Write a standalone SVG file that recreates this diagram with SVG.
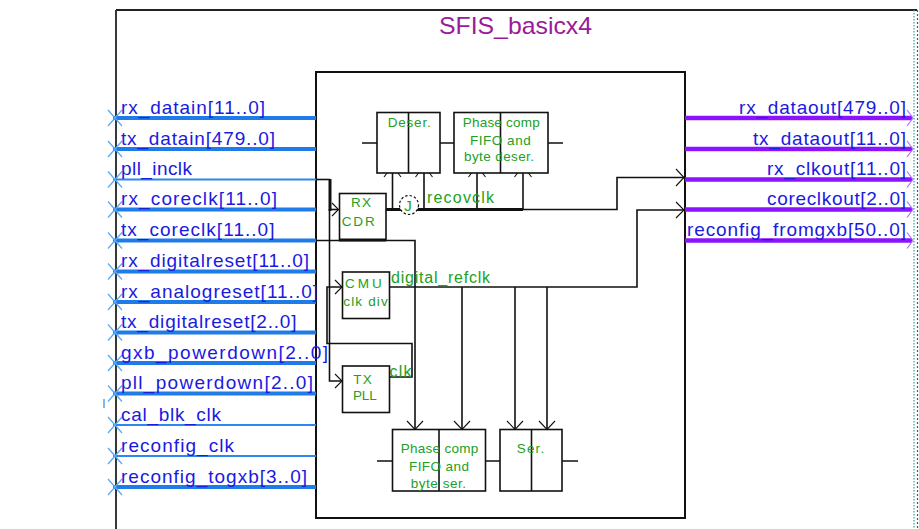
<svg xmlns="http://www.w3.org/2000/svg" width="919" height="529" viewBox="0 0 919 529">
<style>
.pl{font-family:"Liberation Sans",Arial,sans-serif;font-size:19px;fill:#1a1ae0}
.bus{stroke:#1e7be8;stroke-width:4;fill:none}
.thin{stroke:#2a88ee;stroke-width:2;fill:none}
.xm{stroke:#5aaaf5;stroke-width:1.3;fill:none}
.obus{stroke:#8a14ff;stroke-width:4.5;fill:none}
.oarr{stroke:#b070ff;stroke-width:1.2;fill:none}
.blk{fill:#fff;stroke:#111;stroke-width:1.6}
.g{font-family:"Liberation Sans",Arial,sans-serif;font-size:13.5px;fill:#22a022}
.nl{font-family:"Liberation Sans",Arial,sans-serif;font-size:16px;fill:#22a022}
.net{stroke:#111;stroke-width:1.6;fill:none}
.tk{stroke:#111;stroke-width:3;fill:none}
.chev{stroke:#111;stroke-width:1.1;fill:none}
</style>
<rect width="919" height="529" fill="#fff"/>

<g id="outer">
<line x1="116" y1="10" x2="917" y2="10" stroke="#222" stroke-width="1.8"/>
<line x1="116" y1="10" x2="116" y2="529" stroke="#222" stroke-width="1.8"/>
<line x1="914" y1="10" x2="914" y2="529" stroke="#3aa0a0" stroke-width="1.2" stroke-dasharray="1.5,1.5"/>
<line x1="917.5" y1="10" x2="917.5" y2="529" stroke="#555" stroke-width="1.2" stroke-dasharray="2,2"/>
<text x="439" y="34" textLength="153" lengthAdjust="spacingAndGlyphs" font-family="Liberation Sans, Arial, sans-serif" font-size="24" fill="#9a1a9a">SFIS_basicx4</text>
</g>

<g id="inner">
<rect x="316" y="72" width="369" height="446" fill="none" stroke="#111" stroke-width="2"/>
</g>

<g id="left-pins">
<line x1="104" y1="399" x2="104" y2="408" stroke="#2a88ee" stroke-width="1.2"/>
<g id="pin-rx_datain"><line class="bus" x1="113" y1="118" x2="316" y2="118"/><path class="xm" d="M108,110 L122,126 M108,126 L122,110"/><text class="pl" x="121" y="113.5" textLength="144" lengthAdjust="spacing">rx_datain[11..0]</text></g>
<g id="pin-tx_datain"><line class="bus" x1="113" y1="149" x2="316" y2="149"/><path class="xm" d="M108,141 L122,157 M108,157 L122,141"/><text class="pl" x="121" y="144.5" textLength="154" lengthAdjust="spacing">tx_datain[479..0]</text></g>
<g id="pin-pll_inclk"><line class="thin" x1="113" y1="179.5" x2="316" y2="179.5"/><path class="xm" d="M108,171.5 L122,187.5 M108,187.5 L122,171.5"/><text class="pl" x="121" y="175" textLength="71" lengthAdjust="spacing">pll_inclk</text></g>
<g id="pin-rx_coreclk"><line class="bus" x1="113" y1="209.5" x2="316" y2="209.5"/><path class="xm" d="M108,201.5 L122,217.5 M108,217.5 L122,201.5"/><text class="pl" x="121" y="205" textLength="156" lengthAdjust="spacing">rx_coreclk[11..0]</text></g>
<g id="pin-tx_coreclk"><line class="bus" x1="113" y1="240.5" x2="316" y2="240.5"/><path class="xm" d="M108,232.5 L122,248.5 M108,248.5 L122,232.5"/><text class="pl" x="121" y="236" textLength="153.5" lengthAdjust="spacing">tx_coreclk[11..0]</text></g>
<g id="pin-rx_digitalreset"><line class="bus" x1="113" y1="271.5" x2="316" y2="271.5"/><path class="xm" d="M108,263.5 L122,279.5 M108,279.5 L122,263.5"/><text class="pl" x="121" y="267" textLength="188" lengthAdjust="spacing">rx_digitalreset[11..0]</text></g>
<g id="pin-rx_analogreset"><line class="bus" x1="113" y1="302" x2="316" y2="302"/><path class="xm" d="M108,294 L122,310 M108,310 L122,294"/><text class="pl" x="121" y="297.5" textLength="197" lengthAdjust="spacing">rx_analogreset[11..0]</text></g>
<g id="pin-tx_digitalreset"><line class="bus" x1="113" y1="332.5" x2="316" y2="332.5"/><path class="xm" d="M108,324.5 L122,340.5 M108,340.5 L122,324.5"/><text class="pl" x="121" y="328" textLength="175.5" lengthAdjust="spacing">tx_digitalreset[2..0]</text></g>
<g id="pin-gxb_powerdown"><line class="bus" x1="113" y1="363" x2="316" y2="363"/><path class="xm" d="M108,355 L122,371 M108,371 L122,355"/><text class="pl" x="121" y="358.5" textLength="207" lengthAdjust="spacing">gxb_powerdown[2..0]</text></g>
<g id="pin-pll_powerdown"><line class="bus" x1="113" y1="393.5" x2="316" y2="393.5"/><path class="xm" d="M108,385.5 L122,401.5 M108,401.5 L122,385.5"/><text class="pl" x="121" y="389" textLength="192" lengthAdjust="spacing">pll_powerdown[2..0]</text></g>
<g id="pin-cal_blk_clk"><line class="thin" x1="113" y1="425" x2="316" y2="425"/><path class="xm" d="M108,417 L122,433 M108,433 L122,417"/><text class="pl" x="121" y="420.5" textLength="100" lengthAdjust="spacing">cal_blk_clk</text></g>
<g id="pin-reconfig_clk"><line class="thin" x1="113" y1="456" x2="316" y2="456"/><path class="xm" d="M108,448 L122,464 M108,464 L122,448"/><text class="pl" x="121" y="451.5" textLength="113" lengthAdjust="spacing">reconfig_clk</text></g>
<g id="pin-reconfig_togxb"><line class="bus" x1="113" y1="487" x2="316" y2="487"/><path class="xm" d="M108,479 L122,495 M108,495 L122,479"/><text class="pl" x="121" y="482.5" textLength="186" lengthAdjust="spacing">reconfig_togxb[3..0]</text></g>
</g>

<g id="right-pins">
<g id="pin-rx_dataout"><line class="obus" x1="685" y1="118" x2="912" y2="118"/><path class="oarr" d="M907,110 L913,118 L907,126"/><text class="pl" x="739" y="113.5" textLength="167" lengthAdjust="spacing">rx_dataout[479..0]</text></g>
<g id="pin-tx_dataout"><line class="obus" x1="685" y1="149" x2="912" y2="149"/><path class="oarr" d="M907,141 L913,149 L907,157"/><text class="pl" x="753" y="144.5" textLength="153" lengthAdjust="spacing">tx_dataout[11..0]</text></g>
<g id="pin-rx_clkout"><line class="obus" x1="685" y1="179.5" x2="912" y2="179.5"/><path class="oarr" d="M907,171.5 L913,179.5 L907,187.5"/><text class="pl" x="767" y="175" textLength="139" lengthAdjust="spacing">rx_clkout[11..0]</text></g>
<g id="pin-coreclkout"><line class="obus" x1="685" y1="209.5" x2="912" y2="209.5"/><path class="oarr" d="M907,201.5 L913,209.5 L907,217.5"/><text class="pl" x="767" y="205" textLength="139" lengthAdjust="spacing">coreclkout[2..0]</text></g>
<g id="pin-reconfig_fromgxb"><line class="obus" x1="685" y1="240.5" x2="912" y2="240.5"/><path class="oarr" d="M907,232.5 L913,240.5 L907,248.5"/><text class="pl" x="687" y="236" textLength="219" lengthAdjust="spacing">reconfig_fromgxb[50..0]</text></g>
</g>

<g id="connectors">
<path class="net" d="M316,179.5 H330"/>
<line class="tk" x1="330" y1="179" x2="330" y2="211"/>
<path class="net" d="M330,209.5 H338"/>
<path class="net" d="M329.5,209 V381 H342"/>
<path class="net" d="M389,377 H412 V343.5 H327 V287 H342"/>
<path class="net" d="M316,240.5 H415 V429"/>
<line class="tk" x1="386" y1="209.5" x2="523" y2="209.5"/>
<path class="net" d="M392.5,209.5 V166"/>
<path class="net" d="M424,209.5 V166"/>
<path class="net" d="M477,209.5 V166"/>
<path class="net" d="M523,209.5 V166"/>
<path class="net" d="M523,209.5 H617 V177.5 H684"/>
<path class="net" d="M389,287 H637 V210 H684"/>
<path class="net" d="M462,287 V429"/>
<path class="net" d="M515,287 V429"/>
<path class="net" d="M547,287 V429"/>
<path class="net" d="M362,143 H377 M440,143 H454 M548,143 H563"/>
<path class="net" d="M377,461 H392 M486,461 H500 M562,461 H578"/>
<path class="chev" d="M332,203 L338.5,209.5 L332,216"/>
<path class="chev" d="M335,280 L342,287 L335,294"/>
<path class="chev" d="M335,374 L342,381 L335,388"/>
<path class="chev" d="M676,169 L684,177.5 L676,186"/>
<path class="chev" d="M676,202 L684,210 L676,218"/>
<path class="chev" d="M384,177 L392.5,166 L401,177 M388,173 L392.5,167.5 L397,173"/>
<path class="chev" d="M415.5,177 L424,166 L432.5,177 M419.5,173 L424,167.5 L428.5,173"/>
<path class="chev" d="M468.5,177 L477,166 L485.5,177 M472.5,173 L477,167.5 L481.5,173"/>
<path class="chev" d="M514.5,177 L523,166 L531.5,177 M518.5,173 L523,167.5 L527.5,173"/>
<path class="chev" d="M407,421 L415,429.5 L423,421 M410.5,429.5 L415,435 L419.5,429.5"/>
<path class="chev" d="M454,421 L462,429.5 L470,421 M457.5,429.5 L462,435 L466.5,429.5"/>
<path class="chev" d="M507,421 L515,429.5 L523,421 M510.5,429.5 L515,435 L519.5,429.5"/>
<path class="chev" d="M539,421 L547,429.5 L555,421 M542.5,429.5 L547,435 L551.5,429.5"/>
<text class="nl" x="427" y="203" textLength="67" lengthAdjust="spacing">recovclk</text>
<text class="nl" x="391" y="282.5" textLength="99" lengthAdjust="spacing">digital_refclk</text>
<text class="nl" x="389.5" y="377" textLength="22" lengthAdjust="spacing">clk</text>
</g>

<g id="deser">
<rect class="blk" x="377" y="112.5" width="63" height="60.5"/>
<line class="net" x1="408.5" y1="112.5" x2="408.5" y2="173"/>
<text class="g" x="387.7" y="126.5" textLength="43" lengthAdjust="spacing">Deser.</text>
</g>

<g id="phase-comp-rx">
<rect class="blk" x="454" y="112.5" width="94" height="60.5"/>
<line class="net" x1="500.5" y1="112.5" x2="500.5" y2="173"/>
<text class="g" x="462.7" y="126.5" textLength="77" lengthAdjust="spacing">Phase comp</text>
<text class="g" x="470" y="144.5" textLength="60.7" lengthAdjust="spacing">FIFO and</text>
<text class="g" x="464" y="160.5" textLength="70" lengthAdjust="spacing">byte deser.</text>
</g>

<g id="rx-cdr">
<rect x="339.5" y="193.5" width="46.5" height="46.5" fill="#fff" stroke="#111" stroke-width="1.6"/>
<line class="tk" x1="339" y1="240" x2="386" y2="240"/>
<text class="g" x="351" y="206.5" textLength="20" lengthAdjust="spacing">RX</text>
<text class="g" x="341.7" y="225.5" textLength="33" lengthAdjust="spacing">CDR</text>
</g>

<g id="jitter">
<circle cx="409" cy="205" r="9.5" fill="#fff" stroke="#111" stroke-width="1.2" stroke-dasharray="2.5,2"/>
<text x="408" y="211" text-anchor="middle" font-family="Liberation Sans, Arial, sans-serif" font-size="15" fill="#22a022">J</text>
</g>

<g id="cmu">
<rect class="blk" x="342.5" y="272" width="47" height="46.5"/>
<text class="g" x="345" y="287.5" textLength="36.7" lengthAdjust="spacing">CMU</text>
<text class="g" x="343.3" y="305.5" textLength="44.4" lengthAdjust="spacing">clk div</text>
</g>

<g id="tx-pll">
<rect class="blk" x="342.5" y="366" width="47" height="46.5"/>
<text class="g" x="353.3" y="384" textLength="18.4" lengthAdjust="spacing">TX</text>
<text class="g" x="353" y="400" textLength="23.7" lengthAdjust="spacing">PLL</text>
</g>

<g id="phase-comp-tx">
<rect class="blk" x="392.5" y="429.5" width="93" height="61.5"/>
<line class="net" x1="439" y1="429.5" x2="439" y2="491"/>
<text class="g" x="400.7" y="453" textLength="77.6" lengthAdjust="spacing">Phase comp</text>
<text class="g" x="409" y="471" textLength="60" lengthAdjust="spacing">FIFO and</text>
<text class="g" x="410.7" y="487.5" textLength="55.3" lengthAdjust="spacing">byte ser.</text>
</g>

<g id="ser">
<rect class="blk" x="500" y="429.5" width="62" height="61.5"/>
<line class="net" x1="531.5" y1="429.5" x2="531.5" y2="491"/>
<text class="g" x="516.7" y="453" textLength="27.6" lengthAdjust="spacing">Ser.</text>
</g>
</svg>
